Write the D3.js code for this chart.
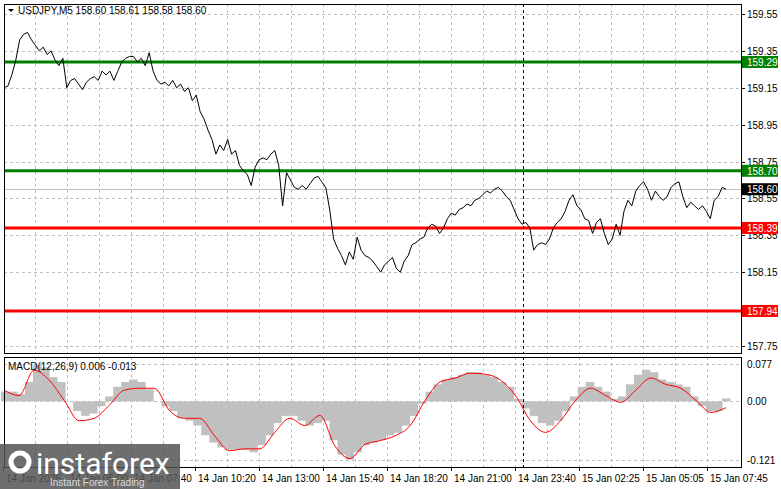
<!DOCTYPE html>
<html><head><meta charset="utf-8">
<script src="https://cdn.jsdelivr.net/npm/d3@7"></script>
<style>body{margin:0;background:#fff}svg{display:block;font-family:"Liberation Sans",Arial,sans-serif}</style>
</head><body><div id="chart"></div>
<script>
// ---- data ----
const price = [159.15,159.16,159.22,159.30,159.41,159.44,159.45,159.41,159.38,159.35,159.37,159.33,159.35,159.30,159.27,159.31,
  159.15,159.19,159.20,159.17,159.14,159.18,159.20,159.21,159.19,159.24,159.22,159.24,159.19,159.24,159.29,159.31,159.32,159.32,
  159.29,159.31,159.27,159.34,159.24,159.19,159.17,159.18,159.16,159.19,159.15,159.17,159.13,159.15,159.08,159.11,159.02,158.98,
  158.92,158.87,158.79,158.84,158.81,158.87,158.79,158.81,158.73,158.70,158.68,158.62,158.72,158.76,158.77,158.76,158.79,158.81,
  158.73,158.51,158.69,158.65,158.61,158.60,158.62,158.60,158.63,158.66,158.67,158.64,158.61,158.49,158.33,158.28,158.24,158.19,
  158.26,158.22,158.34,158.27,158.24,158.23,158.21,158.18,158.15,158.19,158.21,158.23,158.17,158.15,158.21,158.24,158.30,158.31,
  158.33,158.34,158.39,158.41,158.40,158.36,158.39,158.44,158.47,158.46,158.49,158.50,158.52,158.51,158.54,158.55,158.57,158.59,
  158.58,158.60,158.61,158.59,158.56,158.54,158.49,158.44,158.41,158.42,158.39,158.27,158.30,158.31,158.30,158.33,158.39,158.42,
  158.44,158.48,158.54,158.57,158.51,158.49,158.44,158.43,158.36,158.42,158.44,158.36,158.30,158.33,158.41,158.35,158.48,158.54,
  158.51,158.59,158.62,158.64,158.60,158.54,158.59,158.56,158.54,158.56,158.61,158.63,158.64,158.56,158.50,158.53,158.51,158.49,
  158.51,158.48,158.44,158.54,158.56,158.61,158.60];
const macdHist = [.02,.02,.015,.04,.075,.07,.05,.04,0,-.02,-.03,-.025,-.01,.01,.03,.04,.045,.04,.025,0,-.01,-.02,-.035,-.04,-.05,
  -.07,-.085,-.095,-.1,-.1,-.1,-.105,-.09,-.07,-.045,-.03,-.03,-.04,-.05,-.045,-.04,-.08,-.11,-.12,-.105,-.09,-.085,-.08,-.07,-.065,
  -.05,-.03,-.005,.02,.035,.045,.05,.055,.06,.06,.055,.05,.04,.03,.005,-.015,-.03,-.045,-.05,-.04,-.02,.01,.03,.04,.03,.02,.005,.01,
  .035,.055,.065,.06,.045,.04,.035,.03,.01,-.01,-.02,-.02,.006];
const macdSignal = [.023,.012,.064,.044,.002,-.040,-.035,-.008,.023,.027,.027,-.019,-.035,-.035,-.071,-.102,-.098,-.098,-.064,
  -.035,-.050,-.029,-.092,-.118,-.089,-.081,-.071,-.050,.002,.040,.048,.058,.056,.044,.012,-.040,-.064,-.040,.002,.027,.012,-.002,
  .023,.048,.035,.027,.002,-.023,-.013];
const priceTicks = [159.55,159.35,159.15,158.95,158.75,158.55,158.35,158.15,157.75];
const levels = [{v:159.29,c:"#008000"},{v:158.70,c:"#008000"},{v:158.39,c:"#ff0000"},{v:157.94,c:"#ff0000"}];
const lastPrice = 158.60;
const timeLabels = ["14 Jan 2026","14 Jan 05:00","14 Jan 07:40","14 Jan 10:20","14 Jan 13:00","14 Jan 15:40","14 Jan 18:20",
  "14 Jan 21:00","14 Jan 23:40","15 Jan 02:25","15 Jan 05:05","15 Jan 07:45"];
const macdTicks = [0.077,0.00,-0.121];
const title = "USDJPY,M5  158.60 158.61 158.58 158.60";
const macdTitle = "MACD(12,26,9) 0.006 -0.013";

// ---- layout ----
const W = 781, H = 489, L = 4, R = 741;
const mainTop = 4, mainBot = 353, subTop = 357, subBot = 467;
const svg = d3.select("#chart").append("svg").attr("width", W).attr("height", H);

const y = d3.scaleLinear().domain([157.75, 159.55]).range([346, 14]);
const ym = d3.scaleLinear().domain([-0.121, 0.077]).range([460, 364]);

// grid
const grid = svg.append("g").attr("stroke", "#c0c0c0").attr("stroke-dasharray", "3,3").attr("stroke-width", 1);
d3.range(0, 23).forEach(i => {
  const gx = Math.round(L - 1 + 32 * i) + 0.5;
  if (gx > L && gx < R) {
    grid.append("line").attr("x1", gx).attr("x2", gx).attr("y1", mainTop).attr("y2", mainBot);
    grid.append("line").attr("x1", gx).attr("x2", gx).attr("y1", subTop).attr("y2", subBot);
  }
});
priceTicks.forEach(t => grid.append("line").attr("x1", L).attr("x2", R)
  .attr("y1", Math.round(y(t)) + 0.5).attr("y2", Math.round(y(t)) + 0.5));
macdTicks.forEach(t => grid.append("line").attr("x1", L).attr("x2", R)
  .attr("y1", Math.round(ym(t)) + 0.5).attr("y2", Math.round(ym(t)) + 0.5));

// macd histogram
const xh = d3.scaleLinear().domain([0, macdHist.length - 1]).range([L + 1, 726]);
const bw = (xh(1) - xh(0));
svg.append("g").selectAll("rect").data(macdHist).join("rect")
  .attr("x", (d, i) => xh(i) - bw / 2).attr("width", bw + 0.5)
  .attr("y", d => Math.min(ym(d), ym(0))).attr("height", d => Math.abs(ym(d) - ym(0)))
  .attr("fill", "#c0c0c0");
const xs = d3.scaleLinear().domain([0, macdSignal.length - 1]).range([L, 726]);
svg.append("path").datum(macdSignal)
  .attr("d", d3.line().x((d, i) => xs(i)).y(d => ym(d)).curve(d3.curveMonotoneX))
  .attr("fill", "none").attr("stroke", "#ff0000").attr("stroke-width", 1);

// last price line
svg.append("line").attr("x1", L).attr("x2", R).attr("y1", Math.round(y(lastPrice)) + 0.5)
  .attr("y2", Math.round(y(lastPrice)) + 0.5).attr("stroke", "#c0c0c0");

// level lines
levels.forEach(l => svg.append("line").attr("x1", L).attr("x2", R)
  .attr("y1", y(l.v)).attr("y2", y(l.v)).attr("stroke", l.c).attr("stroke-width", 3));

// price line
const xp = d3.scaleLinear().domain([0, price.length - 1]).range([L, 726]);
svg.append("path").datum(price)
  .attr("d", d3.line().x((d, i) => xp(i)).y(d => y(d)))
  .attr("fill", "none").attr("stroke", "#000").attr("stroke-width", 1);

// crosshair
[[mainTop, mainBot], [subTop, subBot]].forEach(([a, b]) => svg.append("line")
  .attr("x1", 523.5).attr("x2", 523.5).attr("y1", a).attr("y2", b)
  .attr("stroke", "#000").attr("stroke-dasharray", "3,3"));

// frames
svg.append("rect").attr("x", L + 0.5).attr("y", mainTop + 0.5).attr("width", R - L).attr("height", mainBot - mainTop)
  .attr("fill", "none").attr("stroke", "#000");
svg.append("rect").attr("x", L + 0.5).attr("y", subTop + 0.5).attr("width", R - L).attr("height", subBot - subTop)
  .attr("fill", "none").attr("stroke", "#000");

// right axis labels
const ax = svg.append("g").attr("font-size", 10).attr("fill", "#000");
priceTicks.forEach(t => {
  ax.append("line").attr("x1", R).attr("x2", R + 4).attr("y1", Math.round(y(t)) + 0.5).attr("y2", Math.round(y(t)) + 0.5).attr("stroke", "#000");
  ax.append("text").attr("x", 747).attr("y", y(t) + 4).text(t.toFixed(2));
});
macdTicks.forEach(t => {
  ax.append("text").attr("x", 747).attr("y", ym(t) + 4).text(t === 0 ? "0.00" : t.toFixed(3));
});
const tags = levels.concat([{v: lastPrice, c: "#000"}]);
tags.forEach(l => {
  ax.append("rect").attr("x", R + 1).attr("y", y(l.v) - 6).attr("width", 36).attr("height", 12).attr("fill", l.c);
  ax.append("text").attr("x", 747).attr("y", y(l.v) + 4).attr("fill", "#fff").text(l.v.toFixed(2));
});

// time labels
const tx = svg.append("g").attr("font-size", 10);
timeLabels.forEach((t, i) => {
  const px = L - 1 + 64 * i;
  tx.append("line").attr("x1", px + 0.5).attr("x2", px + 0.5).attr("y1", subBot).attr("y2", subBot + 4).attr("stroke", "#000");
  tx.append("text").attr("x", px + 3).attr("y", 482).text(t);
});

// titles
svg.append("path").attr("d", "M8,9 L14,9 L11,12 Z").attr("fill", "#000");
svg.append("text").attr("x", 18).attr("y", 14).attr("font-size", 10).text(title);
svg.append("text").attr("x", 8).attr("y", 370).attr("font-size", 10).text(macdTitle);

// watermark
const wm = svg.append("g");
wm.append("rect").attr("x", 0).attr("y", 444).attr("width", 180).attr("height", 45).attr("fill", "#555").attr("opacity", 0.85);
wm.append("circle").attr("cx", 20).attr("cy", 462).attr("r", 9).attr("fill", "none").attr("stroke", "#fff").attr("stroke-width", 5);
wm.append("text").attr("x", 36).attr("y", 474).attr("font-size", 30).attr("fill", "#fff").attr("font-family", "Roboto, sans-serif").text("instaforex");
wm.append("text").attr("x", 50).attr("y", 486).attr("font-size", 10).attr("fill", "#ddd").text("Instant Forex Trading");
</script></body></html>
